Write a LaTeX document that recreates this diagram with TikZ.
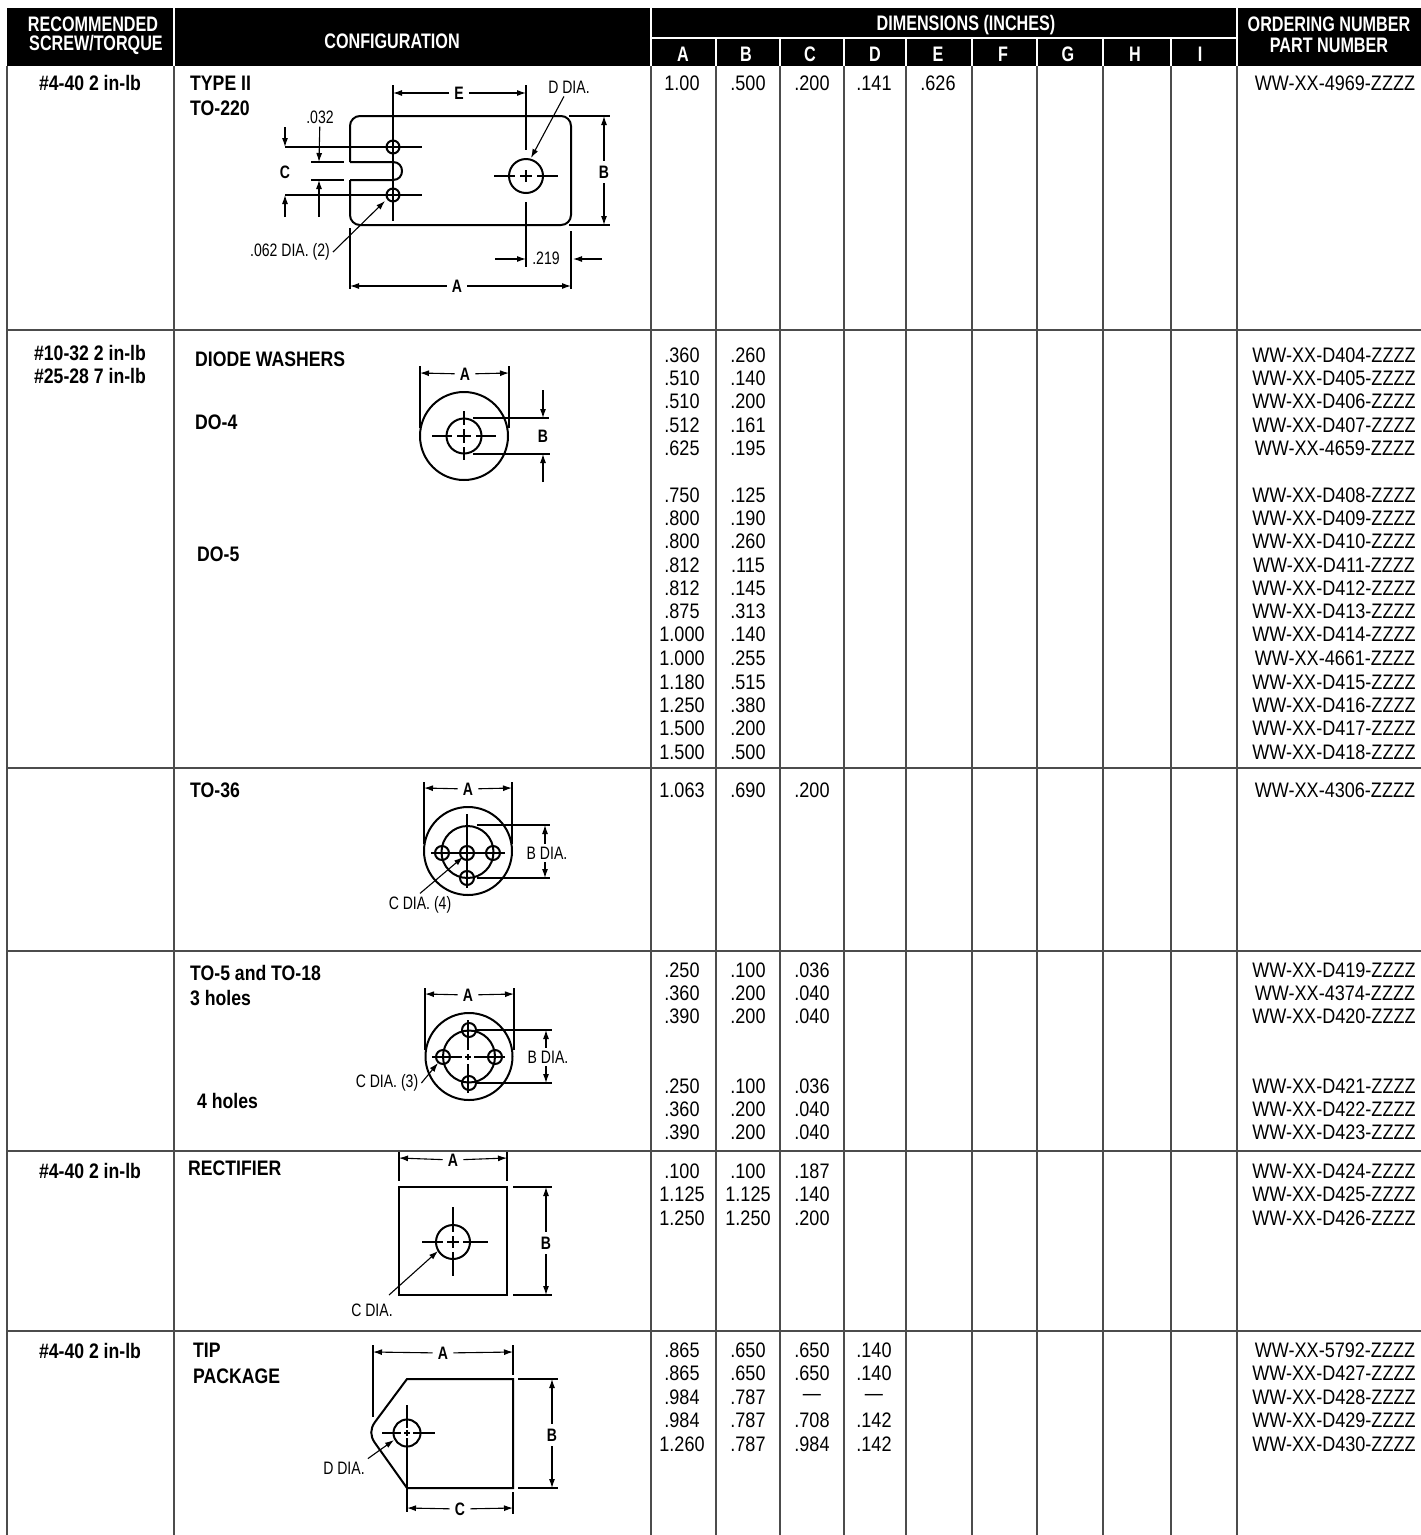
\documentclass[tikz,border=0pt]{standalone}
\usepackage{fontspec}
\usetikzlibrary{arrows.meta}
\newfontfamily\headfont{Liberation Sans}[FakeStretch=0.77]
\newfontfamily\labelfont{Liberation Sans}[FakeStretch=0.84]
\newfontfamily\bodyfont{Liberation Sans}[FakeStretch=0.86]
\newfontfamily\drawfont{Liberation Sans}[FakeStretch=0.78]
\tikzset{
  rule/.style={black!70,line width=1.1pt},
  hrule/.style={white,line width=1.4pt},
  head/.style={white,inner sep=0pt,font=\fontsize{21}{24}\selectfont\headfont\bfseries},
  lab/.style={inner sep=0pt,font=\fontsize{21}{24}\selectfont\labelfont\bfseries},
  conf/.style={lab,anchor=west},
  val/.style={inner sep=0pt,font=\fontsize{21}{24}\selectfont\bodyfont},
  dimlab/.style={inner sep=3pt,font=\fontsize{18}{20}\selectfont\drawfont},
  dimletter/.style={inner sep=5pt,font=\fontsize{18}{20}\selectfont\drawfont\bfseries},
  part/.style={line width=2pt},
  thin line/.style={line width=1.1pt},
  dimarrow/.style={thin line,-{Latex[length=9pt,width=6pt]}},
}
\begin{document}
\begin{tikzpicture}[x=1pt,y=-1pt]
\useasboundingbox (0,0) rectangle (1421,1535);

\fill[black] (7,8) rectangle (1421,66);								% header band
\draw[hrule] (651,38) -- (1237,38);									% under dimensions
\draw[hrule] (174,8) -- (174,66);
\draw[hrule] (651,8) -- (651,66);
\draw[hrule] (1237,8) -- (1237,66);
\draw[hrule] (716,38) -- (716,66);
\draw[hrule] (780,38) -- (780,66);
\draw[hrule] (844,38) -- (844,66);
\draw[hrule] (906,38) -- (906,66);
\draw[hrule] (972,38) -- (972,66);
\draw[hrule] (1037,38) -- (1037,66);
\draw[hrule] (1103,38) -- (1103,66);
\draw[hrule] (1171,38) -- (1171,66);

\draw[rule] (7,66) -- (7,1535);										% column lines
\draw[rule] (174,66) -- (174,1535);
\draw[rule] (651,66) -- (651,1535);
\draw[rule] (716,66) -- (716,1535);
\draw[rule] (780,66) -- (780,1535);
\draw[rule] (844,66) -- (844,1535);
\draw[rule] (906,66) -- (906,1535);
\draw[rule] (972,66) -- (972,1535);
\draw[rule] (1037,66) -- (1037,1535);
\draw[rule] (1103,66) -- (1103,1535);
\draw[rule] (1171,66) -- (1171,1535);
\draw[rule] (1237,66) -- (1237,1535);
\draw[rule] (7,330) -- (1421,330);									% row lines
\draw[rule] (7,768) -- (1421,768);
\draw[rule] (7,951) -- (1421,951);
\draw[rule] (7,1151) -- (1421,1151);
\draw[rule] (7,1331) -- (1421,1331);

\node[head] (hrec) at (93,24) {RECOMMENDED};						% header texts
\node[head] (hscrew) at (96,45) {SCREW/TORQUE};
\node[head] (hconf) at (392,41) {CONFIGURATION};
\node[head] (hdim) at (966,25) {DIMENSIONS (INCHES)};
\node[head] (hord) at (1329,24) {ORDERING NUMBER};
\node[head] (hpart) at (1329,45) {PART NUMBER};
\node[head] (ha) at (683,54) {A};
\node[head] (hb) at (746,54) {B};
\node[head] (hc) at (810,54) {C};
\node[head] (hd) at (875,54) {D};
\node[head] (he) at (938,54) {E};
\node[head] (hf) at (1003,54) {F};
\node[head] (hg) at (1068,54) {G};
\node[head] (hh) at (1135,54) {H};
\node[head] (hi) at (1200,54) {I};

\node[lab] (s1) at (90,83) {\#4-40 2 in-lb};						% screw column
\node[lab] (s2) at (90,353) {\#10-32 2 in-lb};
\node[lab] (s3) at (90,376) {\#25-28 7 in-lb};
\node[lab] (s4) at (90,1171) {\#4-40 2 in-lb};
\node[lab] (s5) at (90,1351) {\#4-40 2 in-lb};

\node[conf] (c1) at (190,83) {TYPE II};								% configuration names
\node[conf] (c2) at (190,108) {TO-220};
\node[conf] (c3) at (195,359) {DIODE WASHERS};
\node[conf] (c4) at (195,422) {DO-4};
\node[conf] (c5) at (197,554) {DO-5};
\node[conf] (c6) at (190,790) {TO-36};
\node[conf] (c7) at (190,973) {TO-5 and TO-18};
\node[conf] (c8) at (190,998) {3 holes};
\node[conf] (c9) at (197,1101) {4 holes};
\node[conf] (c10) at (188,1168) {RECTIFIER};
\node[conf] (c11) at (193,1350) {TIP};
\node[conf] (c12) at (193,1376) {PACKAGE};

\node[val] (a1) at (682,83) {1.00};									% TO-220 row
\node[val] (b1) at (748,83) {.500};
\node[val] (e1) at (812,83) {.200};
\node[val] (d1) at (874,83) {.141};
\node[val] (f1) at (938,83) {.626};
\node[val] (p1) at (1335,83) {WW-XX-4969-ZZZZ};

\node[val] (a2) at (682,355) {.360};								% diode washers
\node[val] (b2) at (748,355) {.260};
\node[val] (p2) at (1334,355) {WW-XX-D404-ZZZZ};
\node[val] (a3) at (682,378) {.510};
\node[val] (b3) at (748,378) {.140};
\node[val] (p3) at (1334,378) {WW-XX-D405-ZZZZ};
\node[val] (a4) at (682,401) {.510};
\node[val] (b4) at (748,401) {.200};
\node[val] (p4) at (1334,401) {WW-XX-D406-ZZZZ};
\node[val] (a5) at (682,425) {.512};
\node[val] (b5) at (748,425) {.161};
\node[val] (p5) at (1334,425) {WW-XX-D407-ZZZZ};
\node[val] (a6) at (682,448) {.625};
\node[val] (b6) at (748,448) {.195};
\node[val] (p6) at (1335,448) {WW-XX-4659-ZZZZ};
\node[val] (a7) at (682,495) {.750};
\node[val] (b7) at (748,495) {.125};
\node[val] (p7) at (1334,495) {WW-XX-D408-ZZZZ};
\node[val] (a8) at (682,518) {.800};
\node[val] (b8) at (748,518) {.190};
\node[val] (p8) at (1334,518) {WW-XX-D409-ZZZZ};
\node[val] (a9) at (682,541) {.800};
\node[val] (b9) at (748,541) {.260};
\node[val] (p9) at (1334,541) {WW-XX-D410-ZZZZ};
\node[val] (a10) at (682,565) {.812};
\node[val] (b10) at (748,565) {.115};
\node[val] (p10) at (1334,565) {WW-XX-D411-ZZZZ};
\node[val] (a11) at (682,588) {.812};
\node[val] (b11) at (748,588) {.145};
\node[val] (p11) at (1334,588) {WW-XX-D412-ZZZZ};
\node[val] (a12) at (682,611) {.875};
\node[val] (b12) at (748,611) {.313};
\node[val] (p12) at (1334,611) {WW-XX-D413-ZZZZ};
\node[val] (a13) at (682,634) {1.000};
\node[val] (b13) at (748,634) {.140};
\node[val] (p13) at (1334,634) {WW-XX-D414-ZZZZ};
\node[val] (a14) at (682,658) {1.000};
\node[val] (b14) at (748,658) {.255};
\node[val] (p14) at (1335,658) {WW-XX-4661-ZZZZ};
\node[val] (a15) at (682,682) {1.180};
\node[val] (b15) at (748,682) {.515};
\node[val] (p15) at (1334,682) {WW-XX-D415-ZZZZ};
\node[val] (a16) at (682,705) {1.250};
\node[val] (b16) at (748,705) {.380};
\node[val] (p16) at (1334,705) {WW-XX-D416-ZZZZ};
\node[val] (a17) at (682,728) {1.500};
\node[val] (b17) at (748,728) {.200};
\node[val] (p17) at (1334,728) {WW-XX-D417-ZZZZ};
\node[val] (a18) at (682,752) {1.500};
\node[val] (b18) at (748,752) {.500};
\node[val] (p18) at (1334,752) {WW-XX-D418-ZZZZ};

\node[val] (a19) at (682,790) {1.063};								% TO-36
\node[val] (b19) at (748,790) {.690};
\node[val] (e19) at (812,790) {.200};
\node[val] (p19) at (1335,790) {WW-XX-4306-ZZZZ};

\node[val] (a20) at (682,970) {.250};								% TO-5 and TO-18
\node[val] (b20) at (748,970) {.100};
\node[val] (e20) at (812,970) {.036};
\node[val] (p20) at (1334,970) {WW-XX-D419-ZZZZ};
\node[val] (a21) at (682,993) {.360};
\node[val] (b21) at (748,993) {.200};
\node[val] (e21) at (812,993) {.040};
\node[val] (p21) at (1335,993) {WW-XX-4374-ZZZZ};
\node[val] (a22) at (682,1016) {.390};
\node[val] (b22) at (748,1016) {.200};
\node[val] (e22) at (812,1016) {.040};
\node[val] (p22) at (1334,1016) {WW-XX-D420-ZZZZ};
\node[val] (a23) at (682,1086) {.250};
\node[val] (b23) at (748,1086) {.100};
\node[val] (e23) at (812,1086) {.036};
\node[val] (p23) at (1334,1086) {WW-XX-D421-ZZZZ};
\node[val] (a24) at (682,1109) {.360};
\node[val] (b24) at (748,1109) {.200};
\node[val] (e24) at (812,1109) {.040};
\node[val] (p24) at (1334,1109) {WW-XX-D422-ZZZZ};
\node[val] (a25) at (682,1132) {.390};
\node[val] (b25) at (748,1132) {.200};
\node[val] (e25) at (812,1132) {.040};
\node[val] (p25) at (1334,1132) {WW-XX-D423-ZZZZ};

\node[val] (a26) at (682,1171) {.100};								% rectifier
\node[val] (b26) at (748,1171) {.100};
\node[val] (e26) at (812,1171) {.187};
\node[val] (p26) at (1334,1171) {WW-XX-D424-ZZZZ};
\node[val] (a27) at (682,1194) {1.125};
\node[val] (b27) at (748,1194) {1.125};
\node[val] (e27) at (812,1194) {.140};
\node[val] (p27) at (1334,1194) {WW-XX-D425-ZZZZ};
\node[val] (a28) at (682,1218) {1.250};
\node[val] (b28) at (748,1218) {1.250};
\node[val] (e28) at (812,1218) {.200};
\node[val] (p28) at (1334,1218) {WW-XX-D426-ZZZZ};

\node[val] (a29) at (682,1350) {.865};								% TIP package
\node[val] (b29) at (748,1350) {.650};
\node[val] (e29) at (812,1350) {.650};
\node[val] (d29) at (874,1350) {.140};
\node[val] (p29) at (1335,1350) {WW-XX-5792-ZZZZ};
\node[val] (a30) at (682,1373) {.865};
\node[val] (b30) at (748,1373) {.650};
\node[val] (e30) at (812,1373) {.650};
\node[val] (d30) at (874,1373) {.140};
\node[val] (p30) at (1334,1373) {WW-XX-D427-ZZZZ};
\node[val] (a31) at (682,1397) {.984};
\node[val] (b31) at (748,1397) {.787};
\node[val] (e31) at (812,1397) {—};
\node[val] (d31) at (874,1397) {—};
\node[val] (p31) at (1334,1397) {WW-XX-D428-ZZZZ};
\node[val] (a32) at (682,1420) {.984};
\node[val] (b32) at (748,1420) {.787};
\node[val] (e32) at (812,1420) {.708};
\node[val] (d32) at (874,1420) {.142};
\node[val] (p32) at (1334,1420) {WW-XX-D429-ZZZZ};
\node[val] (a33) at (682,1444) {1.260};
\node[val] (b33) at (748,1444) {.787};
\node[val] (e33) at (812,1444) {.984};
\node[val] (d33) at (874,1444) {.142};
\node[val] (p33) at (1334,1444) {WW-XX-D430-ZZZZ};

% TO-220 drawing
\draw[part,rounded corners=10pt] (350,162) -- (350,116) -- (571,116) -- (571,225) -- (350,225) -- (350,180);	% plate
\draw[part] (350,162) -- (393,162) .. controls (405,162) and (405,180) .. (393,180) -- (350,180);				% slot
\draw[part] (393,147) circle[radius=6.5];							% small holes
\draw[part] (393,195) circle[radius=6.5];
\draw[part] (526,176) circle[radius=17];							% big hole
\draw[thin line] (393,85) -- (393,221);								% center lines
\draw[thin line] (285,147) -- (422,147);
\draw[thin line] (285,195) -- (422,195);
\draw[thin line] (526,85) -- (526,150);
\draw[thin line] (526,170) -- (526,182);
\draw[thin line] (526,202) -- (526,267);
\draw[thin line] (494,176) -- (515,176);
\draw[thin line] (520,176) -- (532,176);
\draw[thin line] (537,176) -- (558,176);
\draw[thin line] (311,162) -- (344,162);							% slot width
\draw[thin line] (311,180) -- (344,180);
\draw[thin line] (569,116) -- (610,116);							% B extension
\draw[thin line] (569,225) -- (610,225);
\draw[thin line] (350,228) -- (350,289);							% A extension
\draw[thin line] (571,231) -- (571,289);
\node[dimletter] (aone) at (457,286) {A};
\node[dimletter] (bone) at (604,172) {B};
\node[dimletter] (cone) at (285,172) {C};
\node[dimlab] (dia1) at (569,87) {D DIA.};
\node[dimletter] (eone) at (459,93) {E};
\node[dimlab] (slot1) at (320,117) {.032};
\node[dimlab] (off1) at (546,258) {.219};
\node[dimlab] (hole1) at (290,252) {.062 DIA. (2)};
\draw[dimarrow] (aone) -- (350,286);
\draw[dimarrow] (aone) -- (571,286);
\draw[dimarrow] (bone) -- (604,116);
\draw[dimarrow] (bone) -- (604,225);
\draw[dimarrow] (eone) -- (393,93);
\draw[dimarrow] (eone) -- (526,93);
\draw[dimarrow] (285,127) -- (285,147);
\draw[dimarrow] (285,217) -- (285,195);
\draw[dimarrow] (slot1) -- (319,162);
\draw[dimarrow] (319,217) -- (319,180);
\draw[dimarrow] (495,259) -- (526,259);
\draw[dimarrow] (602,259) -- (573,259);
\draw[dimarrow] (dia1) -- (531,158);
\draw[dimarrow] (hole1.east) -- (385,201);

% DO-4 drawing
\draw[part] (464,436) circle[radius=44];							% washer
\draw[part] (464,436) circle[radius=17.5];							% hole
\draw[thin line] (432,436) -- (452,436);							% center lines
\draw[thin line] (457,436) -- (471,436);
\draw[thin line] (476,436) -- (496,436);
\draw[thin line] (464,411) -- (464,425);
\draw[thin line] (464,429) -- (464,443);
\draw[thin line] (464,447) -- (464,460);
\draw[thin line] (420,366) -- (420,428);							% A extension
\draw[thin line] (509,366) -- (509,428);
\draw[thin line] (473,418) -- (549,418);							% B extension
\draw[thin line] (473,454) -- (550,454);
\node[dimletter] (atwo) at (465,374) {A};
\node[dimletter] (btwo) at (543,436) {B};
\draw[dimarrow] (atwo) -- (420,373);
\draw[dimarrow] (atwo) -- (509,373);
\draw[dimarrow] (543,390) -- (543,418);
\draw[dimarrow] (543,482) -- (543,454);

% TO-36 drawing
\draw[part] (468,851) circle[radius=44];							% outer
\draw[part] (467.5,852) circle[radius=26];							% bolt circle
\draw[part] (442,853) circle[radius=7];								% holes
\draw[part] (467,853) circle[radius=7];
\draw[part] (493,853) circle[radius=7];
\draw[part] (467,878) circle[radius=7];
\draw[thin line] (467,814) -- (467,888);							% center lines
\draw[thin line] (431,853) -- (505,853);
\draw[thin line] (424,782) -- (424,844);							% A extension
\draw[thin line] (512,782) -- (512,844);
\draw[thin line] (477,825) -- (550,825);							% B extension
\draw[thin line] (477,878) -- (550,878);
\node[dimletter] (athree) at (468,789) {A};
\node[dimlab] (bthree) at (547,853) {B DIA.};
\node[dimlab] (cthree) at (420,905) {C DIA. (4)};
\draw[dimarrow] (athree) -- (424,788);
\draw[dimarrow] (athree) -- (512,788);
\draw[dimarrow] (bthree.north -| 545,0) -- (545,825);
\draw[dimarrow] (bthree.south -| 545,0) -- (545,878);
\draw[dimarrow] (cthree.north) -- (463,857);

% TO-5 and TO-18 drawing
\draw[part] (469,1056.5) circle[radius=43.5];						% outer
\draw[part] (469,1056.5) circle[radius=26];							% bolt circle
\draw[part] (469,1030) circle[radius=7];							% holes
\draw[part] (469,1083) circle[radius=7];
\draw[part] (443,1057) circle[radius=7];
\draw[part] (495,1057) circle[radius=7];
\draw[thin line] (468,1020) -- (468,1050);							% center lines
\draw[thin line] (468,1054) -- (468,1060);
\draw[thin line] (468,1064) -- (468,1093);
\draw[thin line] (432,1057) -- (462,1057);
\draw[thin line] (465,1057) -- (471,1057);
\draw[thin line] (474,1057) -- (505,1057);
\draw[thin line] (425,988) -- (425,1050);							% A extension
\draw[thin line] (514,988) -- (514,1050);
\draw[thin line] (477,1030) -- (552,1030);							% B extension
\draw[thin line] (477,1083) -- (552,1083);
\node[dimletter] (afour) at (468,995) {A};
\node[dimlab] (bfour) at (548,1057) {B DIA.};
\node[dimlab] (cfour) at (387,1083) {C DIA. (3)};
\draw[dimarrow] (afour) -- (425,994);
\draw[dimarrow] (afour) -- (514,994);
\draw[dimarrow] (bfour.north -| 546,0) -- (546,1030);
\draw[dimarrow] (bfour.south -| 546,0) -- (546,1083);
\draw[dimarrow] (cfour.east) -- (438,1063);

% rectifier drawing
\draw[part] (399,1187) rectangle (507,1295);						% square
\draw[part] (453,1242) circle[radius=17];							% hole
\draw[thin line] (422,1242) -- (443,1242);							% center lines
\draw[thin line] (447,1242) -- (459,1242);
\draw[thin line] (463,1242) -- (488,1242);
\draw[thin line] (453,1207) -- (453,1232);
\draw[thin line] (453,1236) -- (453,1248);
\draw[thin line] (453,1252) -- (453,1276);
\draw[thin line] (399,1152) -- (399,1181);							% A extension
\draw[thin line] (507,1152) -- (507,1181);
\draw[thin line] (513,1187) -- (552,1187);							% B extension
\draw[thin line] (513,1295) -- (552,1295);
\node[dimletter] (afive) at (453,1160) {A};
\node[dimletter] (bfive) at (546,1243) {B};
\node[dimlab] (cfive) at (372,1310) {C DIA.};
\draw[dimarrow] (afive) -- (399,1158);
\draw[dimarrow] (afive) -- (507,1158);
\draw[dimarrow] (bfive) -- (546,1187);
\draw[dimarrow] (bfive) -- (546,1295);
\draw[dimarrow] (389,1295) -- (438,1251);

% TIP package drawing
\draw[part] (407,1379) -- (513,1379) -- (513,1488) -- (407,1488) -- (375,1443) .. controls (370,1436) and (370,1429) .. (375,1422) -- cycle;	% tab
\draw[part] (407,1433) circle[radius=13.5];							% hole
\draw[thin line] (382,1433) -- (401,1433);							% center lines
\draw[thin line] (404,1433) -- (410,1433);
\draw[thin line] (413,1433) -- (435,1433);
\draw[thin line] (407,1405) -- (407,1428);
\draw[thin line] (407,1430) -- (407,1436);
\draw[thin line] (407,1438) -- (407,1512);
\draw[thin line] (373,1345) -- (373,1417);							% A extension
\draw[thin line] (513,1345) -- (513,1375);
\draw[thin line] (518,1379) -- (558,1379);							% B extension
\draw[thin line] (518,1488) -- (558,1488);
\draw[thin line] (513,1492) -- (513,1514);							% C extension
\node[dimletter] (asix) at (443,1353) {A};
\node[dimletter] (bsix) at (552,1435) {B};
\node[dimletter] (csix) at (460,1509) {C};
\node[dimlab] (dsix) at (344,1468) {D DIA.};
\draw[dimarrow] (asix) -- (373,1352);
\draw[dimarrow] (asix) -- (513,1352);
\draw[dimarrow] (bsix) -- (552,1379);
\draw[dimarrow] (bsix) -- (552,1488);
\draw[dimarrow] (csix) -- (407,1508);
\draw[dimarrow] (csix) -- (513,1508);
\draw[dimarrow] (dsix.north east) -- (394,1440);

\end{tikzpicture}
\end{document}
